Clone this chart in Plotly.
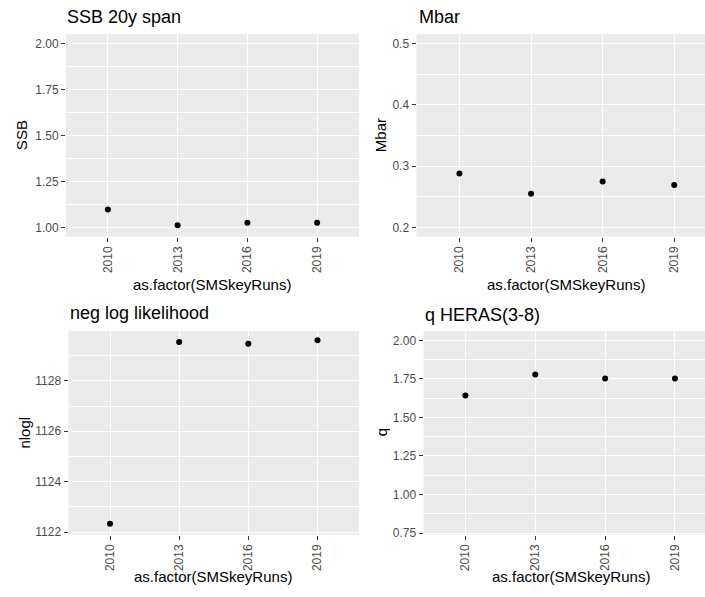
import plotly.graph_objects as go

# ---- data ----
runs = ["2010", "2013", "2016", "2019"]
ssb = [1.097, 1.011, 1.025, 1.025]
mbar = [0.288, 0.255, 0.275, 0.269]
nlogl = [1122.33, 1129.54, 1129.47, 1129.61]
q_heras = [1.643, 1.778, 1.752, 1.752]

titles = ["SSB 20y span", "Mbar", "neg log likelihood", "q HERAS(3-8)"]
ytitles = ["SSB", "Mbar", "nlogl", "q"]
xtitle = "as.factor(SMSkeyRuns)"

ssb_ticks = [1.00, 1.25, 1.50, 1.75, 2.00]
mbar_ticks = [0.2, 0.3, 0.4, 0.5]
nlogl_ticks = [1122, 1124, 1126, 1128]
q_ticks = [0.75, 1.00, 1.25, 1.50, 1.75, 2.00]

W, H = 705, 597
FONT = "Liberation Sans, Arial, sans-serif"


def px_x(v):
    return v / W


def px_y(v):
    return 1 - v / H


# right-hand panels are cut off by the image edge in the original
panels = [
    dict(vals=ssb, ticks=ssb_ticks, text=["%.2f" % t for t in ssb_ticks], yr=[0.95, 2.05],
         xr=[-0.6, 3.6], m0=1.125, md=0.25, box=(66, 359, 34.5, 239)),
    dict(vals=mbar, ticks=mbar_ticks, text=["%.1f" % t for t in mbar_ticks], yr=[0.185, 0.515],
         xr=[-0.6, 3.43], m0=0.25, md=0.1, box=(416.5, 705, 34.5, 239)),
    dict(vals=nlogl, ticks=nlogl_ticks, text=[str(t) for t in nlogl_ticks], yr=[1121.9, 1129.97],
         xr=[-0.6, 3.6], m0=1123, md=2, box=(68.5, 359, 334.5, 540)),
    dict(vals=q_heras, ticks=q_ticks, text=["%.2f" % t for t in q_ticks], yr=[0.74, 2.06],
         xr=[-0.6, 3.43], m0=0.875, md=0.25, box=(423.5, 705, 334.5, 540)),
]

fig = go.Figure()
layout = dict(
    width=W, height=H,
    margin=dict(l=0, r=0, t=0, b=0),
    paper_bgcolor="white",
    plot_bgcolor="#EBEBEB",
    showlegend=False,
    font=dict(family=FONT),
    annotations=[],
)

for i, p in enumerate(panels):
    n = "" if i == 0 else str(i + 1)
    x0, x1, y0, y1 = p["box"]
    fig.add_trace(go.Scatter(
        x=runs, y=p["vals"], mode="markers",
        marker=dict(color="black", size=6),
        xaxis="x" + n, yaxis="y" + n, hoverinfo="x+y",
        cliponaxis=False,
    ))
    layout["xaxis" + n] = dict(
        domain=[px_x(x0), px_x(x1)], anchor="y" + n,
        type="category", categoryorder="array", categoryarray=runs,
        range=p["xr"],
        showgrid=True, gridcolor="white", gridwidth=1.4,
        zeroline=False, showline=False,
        ticks="outside", ticklen=4, tickwidth=1, tickcolor="#333333",
        tickangle=-90,
        tickfont=dict(family=FONT, size=12, color="#4D4D4D"),
        fixedrange=True,
    )
    layout["yaxis" + n] = dict(
        domain=[px_y(y1), px_y(y0)], anchor="x" + n,
        range=p["yr"],
        tickmode="array", tickvals=p["ticks"], ticktext=p["text"],
        showgrid=True, gridcolor="white", gridwidth=1.4,
        minor=dict(showgrid=True, gridcolor="white", gridwidth=0.7,
                   tick0=p["m0"], dtick=p["md"]),
        zeroline=False, showline=False,
        ticks="outside", ticklen=4, tickwidth=1, tickcolor="#333333",
        tickfont=dict(family=FONT, size=12, color="#4D4D4D"),
        fixedrange=True,
    )

# titles
title_pos = [(65, 17), (417, 17), (68, 316.5), (423, 318)]
for t, (tx, ty) in zip(titles, title_pos):
    layout["annotations"].append(dict(
        text=t, xref="paper", yref="paper", x=px_x(tx), y=px_y(ty),
        xanchor="left", yanchor="middle", showarrow=False,
        font=dict(family=FONT, size=18, color="black"),
    ))

# y axis titles
ytitle_pos = [(21.7, 136.8), (380.7, 136.8), (25, 437), (381.7, 437)]
for t, (tx, ty) in zip(ytitles, ytitle_pos):
    layout["annotations"].append(dict(
        text=t, xref="paper", yref="paper", x=px_x(tx), y=px_y(ty),
        xanchor="center", yanchor="middle", showarrow=False, textangle=-90,
        font=dict(family=FONT, size=15, color="black"),
    ))

# x axis titles
xtitle_pos = [(212, 287), (566, 287), (213, 582), (570.5, 582)]
for (tx, ty) in xtitle_pos:
    layout["annotations"].append(dict(
        text=xtitle, xref="paper", yref="paper", x=px_x(tx), y=px_y(ty),
        xanchor="center", yanchor="middle", showarrow=False,
        font=dict(family=FONT, size=15, color="black"),
    ))

fig.update_layout(**layout)
post = (
    "document.documentElement.style.margin='0';"
    "document.documentElement.style.overflow='hidden';"
    "document.body.style.margin='0';"
    "document.body.style.overflow='hidden';"
    "document.body.style.height='597px';"
)
fig.write_html("out.html", config={"displayModeBar": False}, post_script=post)
